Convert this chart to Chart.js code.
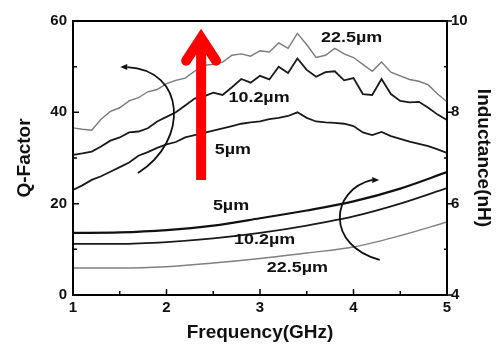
<!DOCTYPE html>
<html>
<head>
<meta charset="utf-8">
<script src="https://cdn.jsdelivr.net/npm/chart.js@4/dist/chart.umd.min.js"></script>
<style>
  body { margin: 0; background: #fff; }
  #wrap { width: 498px; height: 345px; }
</style>
</head>
<body>
<div id="wrap"><canvas id="grafico"></canvas></div>
<script>
// frecuencia (GHz) de las curvas de Q
const freq = [1.0, 1.1, 1.2, 1.3, 1.4, 1.5, 1.6, 1.7, 1.8, 1.9,
              2.0, 2.1, 2.2, 2.3, 2.4, 2.5, 2.6, 2.7, 2.8, 2.9,
              3.0, 3.1, 3.2, 3.3, 3.4, 3.5, 3.6, 3.7, 3.8, 3.9,
              4.0, 4.1, 4.2, 4.3, 4.4, 4.5, 4.6, 4.7, 4.8, 4.9, 5.0];

// Q-Factor por ancho de pista
const q22_5 = [36.6, 36.3, 36.1, 38.5, 40.2, 41.0, 42.5, 43.2, 44.5, 45.0,
               46.3, 47.0, 47.5, 49.0, 50.3, 50.5, 51.0, 52.5, 52.8, 52.3,
               53.5, 53.2, 55.2, 54.0, 57.3, 54.8, 52.0, 52.5, 54.0, 52.8,
               52.0, 50.5, 49.0, 51.0, 48.8, 48.0, 47.2, 46.8, 46.0, 44.0, 42.3];
const q10_2 = [30.7, 31.0, 31.4, 32.5, 33.8, 34.5, 35.6, 35.8, 36.5, 38.0,
               39.0, 40.0, 41.5, 43.0, 43.5, 44.3, 43.8, 45.5, 47.3, 46.5,
               48.0, 47.2, 50.0, 48.6, 51.8, 49.3, 47.8, 48.8, 49.0, 47.0,
               47.5, 44.0, 43.8, 47.3, 44.0, 42.5, 42.2, 42.3, 41.0, 39.5, 38.3];
const q5 = [23.0, 24.0, 25.2, 26.0, 27.0, 28.0, 29.0, 30.5, 31.3, 32.2,
            33.0, 33.5, 34.5, 35.0, 35.5, 36.0, 36.5, 37.0, 37.5, 37.8,
            38.0, 38.5, 38.8, 39.2, 40.0, 38.8, 38.0, 37.8, 37.7, 37.5,
            37.0, 35.6, 35.0, 35.7, 34.8, 34.2, 33.6, 33.1, 32.6, 31.9, 31.1];

// inductancia (nH)
const freqL = [1.0, 1.5, 2.0, 2.5, 3.0, 3.5, 4.0, 4.5, 5.0];
const l5 = [5.36, 5.37, 5.42, 5.52, 5.68, 5.85, 6.05, 6.33, 6.69];
const l10_2 = [5.12, 5.12, 5.16, 5.24, 5.36, 5.52, 5.72, 6.00, 6.34];
const l22_5 = [4.59, 4.59, 4.62, 4.70, 4.80, 4.92, 5.05, 5.30, 5.60];

// ejes
const qTicks = [0, 20, 40, 60];
const lTicks = [4, 6, 8, 10];
const fTicks = [1, 2, 3, 4, 5];

// etiquetas [texto, GHz, Q]
const etiquetas = [
  ['22.5\u00b5m', 3.98, 56.3],
  ['10.2\u00b5m', 2.99, 43.1],
  ['5\u00b5m', 2.71, 31.7],
  ['5\u00b5m', 2.69, 19.5],
  ['10.2\u00b5m', 3.05, 12.0],
  ['22.5\u00b5m', 3.40, 5.9]
];

const FUENTE = 'Liberation Sans, Arial, sans-serif';
const pares = (xs, ys) => xs.map((x, i) => ({ x: x, y: ys[i] }));

function serie(datos, color, ancho, eje, suave) {
  return {
    data: datos, borderColor: color, borderWidth: ancho, yAxisID: eje,
    pointRadius: 0, fill: false,
    tension: suave ? 0.4 : 0, cubicInterpolationMode: suave ? 'monotone' : 'default'
  };
}

// marco, marcas de ejes, flechas y textos
const extras = {
  id: 'extras',
  afterDatasetsDraw(chart) {
    const { ctx, chartArea: a, scales: { x, y, y1 } } = chart;
    const px = f => x.getPixelForValue(f);
    const py = q => y.getPixelForValue(q);
    ctx.save();
    ctx.strokeStyle = '#000';
    ctx.lineWidth = 2;
    ctx.strokeRect(a.left, a.top, a.right - a.left, a.bottom - a.top);

    ctx.lineWidth = 1.5;
    ctx.beginPath();
    [0, 10, 20, 30, 40, 50, 60].forEach(v => {
      const l = v % 20 === 0 ? 6 : 4;
      ctx.moveTo(a.left, py(v)); ctx.lineTo(a.left + l, py(v));
    });
    [1, 1.5, 2, 2.5, 3, 3.5, 4, 4.5, 5].forEach(v => {
      const l = v % 1 === 0 ? 6 : 4;
      ctx.moveTo(px(v), a.bottom); ctx.lineTo(px(v), a.bottom - l);
    });
    [4, 5, 6, 7, 8, 9, 10].forEach(v => {
      const yy = y1.getPixelForValue(v);
      if (v % 2 === 0) { ctx.moveTo(a.right, yy); ctx.lineTo(a.right + 5, yy); }
      else { ctx.moveTo(a.right, yy); ctx.lineTo(a.right - 3, yy); }
    });
    ctx.stroke();

    // flechas curvas negras
    function curva(p, punta) {
      ctx.lineWidth = 1.8;
      ctx.strokeStyle = '#111';
      ctx.beginPath();
      ctx.moveTo(px(p[0]), py(p[1]));
      ctx.bezierCurveTo(px(p[2]), py(p[3]), px(p[4]), py(p[5]), px(p[6]), py(p[7]));
      ctx.stroke();
      const tx = px(p[0]), ty = py(p[1]);
      ctx.fillStyle = '#111';
      ctx.beginPath();
      ctx.moveTo(tx + punta * 7, ty);
      ctx.lineTo(tx, ty - 3);
      ctx.lineTo(tx, ty + 3);
      ctx.closePath();
      ctx.fill();
    }
    curva([1.58, 49.9, 2.20, 49.3, 2.25, 33.9, 1.695, 26.7], -1);
    curva([4.20, 25.2, 3.75, 23.0, 3.70, 10.9, 4.28, 7.7], 1);

    // textos
    ctx.fillStyle = '#111';
    ctx.font = 'bold 14px ' + FUENTE;
    ctx.textAlign = 'center';
    ctx.textBaseline = 'middle';
    etiquetas.forEach(([t, f, q]) => {
      ctx.save();
      ctx.translate(px(f), py(q));
      ctx.scale(1.28, 1);
      ctx.fillText(t, 0, 0);
      ctx.restore();
    });

    // flecha roja
    ctx.strokeStyle = '#ff0000';
    ctx.lineWidth = 10;
    ctx.lineCap = 'butt';
    ctx.beginPath();
    ctx.moveTo(px(2.37), py(25.2));
    ctx.lineTo(px(2.37), py(56.0));
    ctx.stroke();
    ctx.lineCap = 'round';
    ctx.lineJoin = 'miter';
    ctx.beginPath();
    ctx.moveTo(px(2.21), py(51.3));
    ctx.lineTo(px(2.37), py(56.3));
    ctx.lineTo(px(2.53), py(51.3));
    ctx.stroke();
    ctx.restore();
  }
};

function ejeY(pos, min, max, paso, titulo, ancho, padTitulo, padTick, marcas) {
  return {
    type: 'linear', position: pos, min: min, max: max,
    afterFit: s => { s.width = ancho; },
    afterBuildTicks: s => { s.ticks = marcas.map(v => ({ value: v })); },
    grid: { display: false, drawTicks: false },
    border: { display: false },
    ticks: { stepSize: paso, padding: padTick, color: '#111', font: { family: FUENTE, size: 15, weight: 'bold' } },
    title: { display: true, text: titulo, color: '#111', padding: { top: padTitulo }, font: { family: FUENTE, size: 19, weight: 'bold' } }
  };
}

new Chart(document.getElementById('grafico'), {
  type: 'line',
  data: {
    datasets: [
      serie(pares(freq, q22_5), '#7a7a7a', 1.4, 'y', false),
      serie(pares(freq, q10_2), '#1a1a1a', 1.8, 'y', false),
      serie(pares(freq, q5), '#1a1a1a', 1.8, 'y', false),
      serie(pares(freqL, l5), '#111', 2.2, 'y1', true),
      serie(pares(freqL, l10_2), '#1a1a1a', 1.8, 'y1', true),
      serie(pares(freqL, l22_5), '#808080', 1.4, 'y1', true)
    ]
  },
  options: {
    responsive: true, maintainAspectRatio: false, animation: false,
    layout: { padding: { top: 21, left: 0, right: 0, bottom: 0 } },
    plugins: { legend: { display: false }, tooltip: { enabled: false } },
    scales: {
      x: {
        type: 'linear', min: 1, max: 5,
        afterFit: s => { s.height = 50; },
        afterBuildTicks: s => { s.ticks = fTicks.map(v => ({ value: v })); },
        grid: { display: false, drawTicks: false },
        border: { display: false },
        ticks: { stepSize: 1, padding: 4, color: '#111', font: { family: FUENTE, size: 15, weight: 'bold' } },
        title: { display: true, text: 'Frequency(GHz)', color: '#111', padding: { top: 0, bottom: 1 }, font: { family: FUENTE, size: 19, weight: 'bold' } }
      },
      y: ejeY('left', 0, 60, 20, 'Q-Factor', 73, 13, 6, qTicks),
      y1: ejeY('right', 4, 10, 2, 'Inductance(nH)', 51, 3, 4, lTicks)
    }
  },
  plugins: [extras]
});
</script>
</body>
</html>
